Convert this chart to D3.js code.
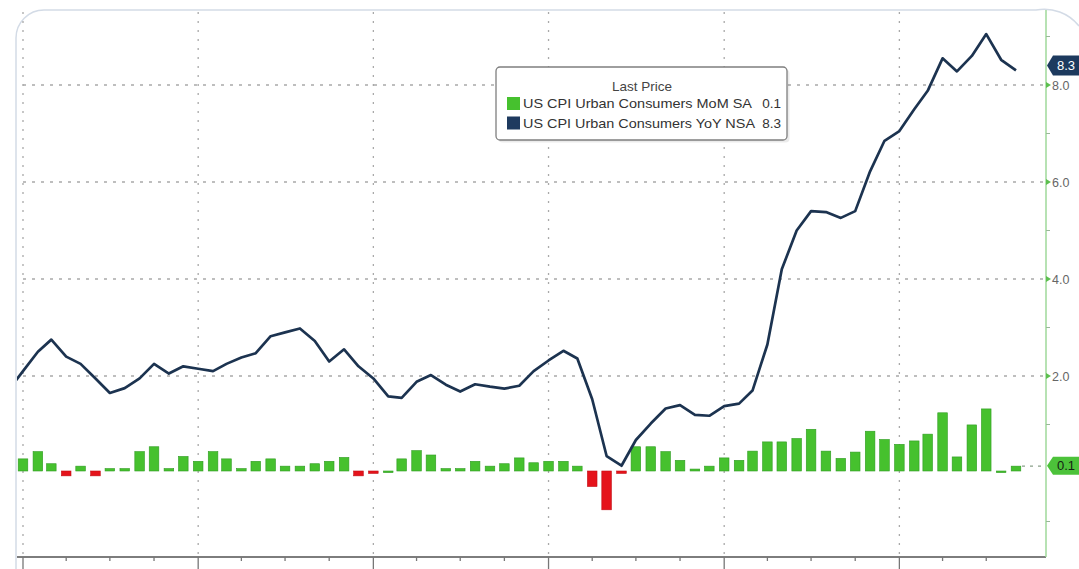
<!DOCTYPE html>
<html><head><meta charset="utf-8">
<script src="https://cdn.jsdelivr.net/npm/d3@7"></script>
<style>
body{margin:0;background:#fff;}
svg{display:block;font-family:"Liberation Sans",Arial,sans-serif;}
</style>
</head><body>
<svg id="c" width="1079" height="569"></svg>
<script>
// ---- DATA ----
const months = [
 "2016-11","2016-12",
 "2017-01","2017-02","2017-03","2017-04","2017-05","2017-06","2017-07","2017-08","2017-09","2017-10","2017-11","2017-12",
 "2018-01","2018-02","2018-03","2018-04","2018-05","2018-06","2018-07","2018-08","2018-09","2018-10","2018-11","2018-12",
 "2019-01","2019-02","2019-03","2019-04","2019-05","2019-06","2019-07","2019-08","2019-09","2019-10","2019-11","2019-12",
 "2020-01","2020-02","2020-03","2020-04","2020-05","2020-06","2020-07","2020-08","2020-09","2020-10","2020-11","2020-12",
 "2021-01","2021-02","2021-03","2021-04","2021-05","2021-06","2021-07","2021-08","2021-09","2021-10","2021-11","2021-12",
 "2022-01","2022-02","2022-03","2022-04","2022-05","2022-06","2022-07","2022-08"
];
const yoy = [
 1.7, 2.1,
 2.5, 2.75, 2.4, 2.25, 1.95, 1.65, 1.75, 1.95, 2.25, 2.05, 2.2, 2.15,
 2.1, 2.25, 2.38, 2.47, 2.82, 2.9, 2.98, 2.72, 2.3, 2.55, 2.2, 1.95,
 1.58, 1.55, 1.88, 2.02, 1.82, 1.68, 1.83, 1.78, 1.74, 1.8, 2.1, 2.32,
 2.52, 2.36, 1.52, 0.35, 0.15, 0.68, 1.02, 1.33, 1.4, 1.2, 1.18, 1.38,
 1.43, 1.7, 2.65, 4.2, 5.0, 5.4, 5.38, 5.26, 5.4, 6.22, 6.85, 7.05,
 7.5, 7.88, 8.55, 8.28, 8.6, 9.05, 8.52, 8.3
];
const mom = [
 0.2, 0.25,
 0.4, 0.15, -0.1, 0.1, -0.1, 0.05, 0.05, 0.4, 0.5, 0.05, 0.3, 0.2,
 0.4, 0.25, 0.05, 0.2, 0.25, 0.1, 0.1, 0.15, 0.2, 0.28, -0.1, -0.05,
 0.0, 0.25, 0.42, 0.33, 0.05, 0.05, 0.2, 0.1, 0.15, 0.27, 0.17, 0.2,
 0.2, 0.1, -0.32, -0.8, -0.05, 0.5, 0.5, 0.4, 0.22, 0.04, 0.1, 0.27,
 0.22, 0.41, 0.6, 0.6, 0.67, 0.86, 0.41, 0.26, 0.39, 0.82, 0.65, 0.55,
 0.62, 0.76, 1.2, 0.29, 0.95, 1.28, 0.0, 0.1
];
const rightTicks = [2, 4, 6, 8];
const rightMinorTicks = [-1, 1, 3, 5, 7, 9];
const legendTitle = "Last Price";
const seriesNames = ["US CPI Urban Consumers MoM SA", "US CPI Urban Consumers YoY NSA"];
const lastValues = ["0.1", "8.3"];

// ---- LAYOUT ----
const svg = d3.select("#c");
const P = {left:17, right:1046, top:10, bottom:557};
const parse = d3.timeParse("%Y-%m");
// monthly values plotted at month end (= start of next month)
const dates = months.map(m => d3.timeMonth.offset(parse(m), 1));
const x = d3.scaleTime()
  .domain([new Date(2017,0,1), new Date(2022,8,1)])
  .range([23, 1016]);
const yL = d3.scaleLinear().domain([0, 8]).range([473, 85]);
const yB = d3.scaleLinear().domain([0, 1]).range([471, 422.5]);

const GREEN = "#46c12e", GREEN_D = "#2f9c22", RED = "#e5131b", NAVY = "#1c3350";

svg.append("defs").append("clipPath").attr("id","clip")
  .append("rect").attr("x",P.left).attr("y",P.top)
  .attr("width",P.right-P.left).attr("height",P.bottom-P.top);

// frame (rounded card border)
svg.append("path")
  .attr("d", `M16,569 V38 A28,28 0 0 1 44,10 H1036 A44,44 0 0 1 1079,26`)
  .attr("fill","none").attr("stroke","#d3dbe6").attr("stroke-width",1.5);

// grid
const g = svg.append("g");
const years = d3.timeYear.range(new Date(2017,0,1), new Date(2022,6,1));
g.selectAll("line.vg").data(years).join("line")
  .attr("x1", d=>x(d)).attr("x2", d=>x(d))
  .attr("y1", 12).attr("y2", P.bottom)
  .attr("stroke","#a9a9a9").attr("stroke-width",1.3)
  .attr("stroke-dasharray","2,7");
g.selectAll("line.hg").data(rightTicks).join("line")
  .attr("x1", 23).attr("x2", P.right)
  .attr("y1", d=>yL(d)).attr("y2", d=>yL(d))
  .attr("stroke","#a9a9a9").attr("stroke-width",1.3)
  .attr("stroke-dasharray","3,6");

// last value dotted line for MoM
g.append("line")
  .attr("x1", x(dates[dates.length-1]) + 6).attr("x2", P.right)
  .attr("y1", yB(0.1)).attr("y2", yB(0.1))
  .attr("stroke","#8aa08a").attr("stroke-width",1.2).attr("stroke-dasharray","3,5");

// bars
const data = months.map((m,i)=>({d:dates[i], mom:mom[i], yoy:yoy[i]}));
const bw = 9.6;
const clipG = svg.append("g").attr("clip-path","url(#clip)");
clipG.selectAll("rect.bar").data(data).join("rect")
  .attr("x", d=>x(d.d)-bw/2)
  .attr("width", bw)
  .attr("y", d=> d.mom>=0 ? yB(d.mom) : yB(0))
  .attr("height", d=> Math.max(1.6, Math.abs(yB(d.mom)-yB(0))))
  .attr("fill", d=> d.mom<0 ? RED : GREEN)
  .attr("stroke", d=> d.mom<0 ? "#c20f16" : GREEN_D)
  .attr("stroke-width", 0.6);

// line
clipG.append("path").datum(data)
  .attr("d", d3.line().x(d=>x(d.d)).y(d=>yL(d.yoy)))
  .attr("fill","none").attr("stroke",NAVY).attr("stroke-width",2.7)
  .attr("stroke-linejoin","round");

// bottom axis
const ax = svg.append("g");
ax.append("line").attr("x1",P.left).attr("x2",P.right)
  .attr("y1",P.bottom).attr("y2",P.bottom)
  .attr("stroke","#7d7d7d").attr("stroke-width",1.8);
const quarters = d3.timeMonth.every(3).range(new Date(2017,0,1), new Date(2022,9,1));
ax.selectAll("line.qt").data(quarters).join("line")
  .attr("x1",d=>x(d)).attr("x2",d=>x(d))
  .attr("y1",P.bottom).attr("y2", d=> d.getMonth()===0 ? 569 : P.bottom+4)
  .attr("stroke","#777").attr("stroke-width",1.3);

// right axis
const ra = svg.append("g");
ra.append("line").attr("x1",P.right).attr("x2",P.right)
  .attr("y1",P.top).attr("y2",P.bottom)
  .attr("stroke","#9fd89a").attr("stroke-width",1.5);
ra.selectAll("path.mt").data(rightTicks).join("path")
  .attr("d", d=>`M${P.right},${yL(d)-3} L${P.right+5},${yL(d)} L${P.right},${yL(d)+3}Z`)
  .attr("fill","#5cbf4f");
ra.selectAll("line.mn").data(rightMinorTicks).join("line")
  .attr("x1",P.right).attr("x2",P.right+4)
  .attr("y1",d=>yL(d)).attr("y2",d=>yL(d))
  .attr("stroke","#9ab89a").attr("stroke-width",1);
ra.selectAll("text.tl").data(rightTicks).join("text")
  .attr("x", P.right+6).attr("y", d=>yL(d)).attr("dy","0.36em")
  .attr("font-size",12.5).attr("fill","#666")
  .text(d=>d3.format(".1f")(d));

// value tags
function tag(yc, h, fill, txt, txtFill){
  const top=yc-h/2;
  ra.append("path")
    .attr("d",`M${P.right+1},${yc} L${P.right+7},${top} H1079 V${top+h} H${P.right+7}Z`)
    .attr("fill",fill);
  ra.append("text").attr("x",1066).attr("y",yc).attr("dy","0.36em")
    .attr("text-anchor","middle").attr("font-size",13).attr("fill",txtFill).text(txt);
}
tag(65.5, 20, "#1d3a5e", lastValues[1], "#fff");
tag(yB(0.1)-0.5, 18, "#4cc23a", lastValues[0], "#142414");

// legend
const L = svg.append("g");
L.append("rect").attr("x",497).attr("y",68).attr("width",291).attr("height",73)
  .attr("rx",4).attr("fill","#000").attr("opacity",0.08).attr("transform","translate(1.5,1.5)");
L.append("rect").attr("x",496).attr("y",67).attr("width",291).attr("height",73)
  .attr("rx",4).attr("fill","#fff").attr("stroke","#7f7f7f").attr("stroke-width",1.3);
L.append("text").attr("x",642).attr("y",91).attr("text-anchor","middle")
  .attr("font-size",13.5).attr("fill","#444").text(legendTitle);
const colors = [GREEN, "#1e3a5f"];
seriesNames.forEach((s,i)=>{
  const yy = 97 + i*19.5;
  L.append("rect").attr("x",507).attr("y",yy).attr("width",13).attr("height",13).attr("fill",colors[i]);
  L.append("text").attr("x",523).attr("y",yy+11).attr("font-size",13.5).attr("fill","#333")
    .attr("textLength", i===0 ? 229 : 232).attr("lengthAdjust","spacingAndGlyphs").text(s);
  L.append("text").attr("x",781).attr("y",yy+11).attr("font-size",13.5).attr("fill","#333")
    .attr("text-anchor","end").text(lastValues[i]);
});
</script>
</body></html>
